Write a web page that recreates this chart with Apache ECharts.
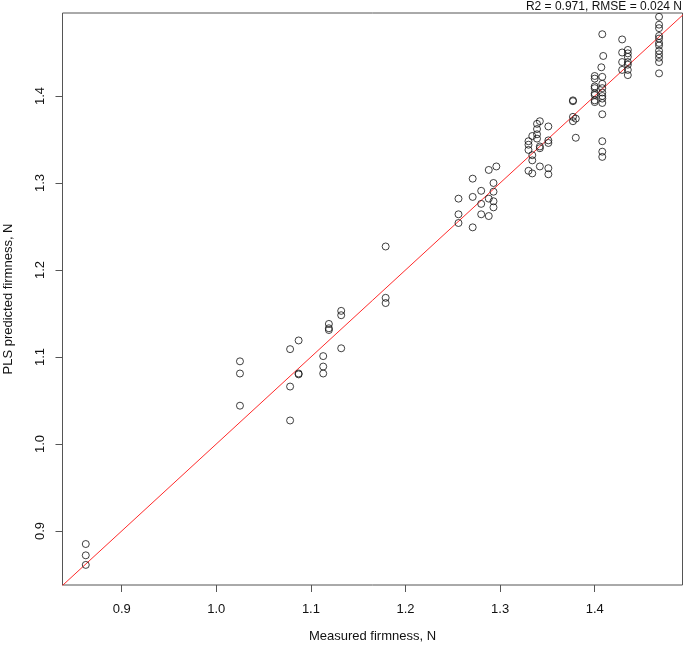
<!DOCTYPE html>
<html>
<head>
<meta charset="utf-8">
<title>PLS predicted vs measured firmness</title>
<script src="https://cdn.jsdelivr.net/npm/echarts@6/dist/echarts.min.js"></script>
<style>
  html, body { margin: 0; padding: 0; background: #fff; }
  #chart { width: 685px; height: 650px; }
</style>
</head>
<body>
<div id="chart"></div>
<script>
// measured firmness (x) and PLS predicted firmness (y)
const measured = [
  0.862, 0.862, 0.862,
  1.025, 1.025, 1.025,
  1.078, 1.078, 1.078,
  1.087, 1.087, 1.087,
  1.113, 1.113, 1.113,
  1.119, 1.119, 1.119,
  1.132, 1.132, 1.132,
  1.179, 1.179, 1.179,
  1.256, 1.256, 1.256,
  1.271, 1.271, 1.271,
  1.280, 1.280, 1.280,
  1.288, 1.288, 1.288,
  1.296, 1.293, 1.293, 1.293, 1.293,
  1.330, 1.330, 1.330, 1.330,
  1.334, 1.334, 1.334, 1.334,
  1.339, 1.339, 1.339, 1.339,
  1.342, 1.342, 1.342, 1.342,
  1.351, 1.351, 1.351, 1.351, 1.351,
  1.377, 1.377, 1.377, 1.380, 1.377, 1.380,
  1.408, 1.409, 1.407,
  1.400, 1.400, 1.400, 1.400, 1.400, 1.400, 1.400, 1.400,
  1.408, 1.408, 1.408, 1.408, 1.408, 1.408, 1.408, 1.408, 1.408, 1.408, 1.408,
  1.429, 1.429, 1.435, 1.435, 1.435, 1.429, 1.435, 1.435, 1.429, 1.435, 1.435,
  1.468, 1.468, 1.468, 1.468, 1.468, 1.468, 1.468, 1.468, 1.468, 1.468, 1.468, 1.468
];
const predicted = [
  0.885, 0.872, 0.861,
  1.095, 1.081, 1.044,
  1.109, 1.066, 1.027,
  1.119, 1.081, 1.080,
  1.101, 1.089, 1.081,
  1.138, 1.133, 1.131,
  1.153, 1.148, 1.110,
  1.227, 1.168, 1.162,
  1.282, 1.264, 1.254,
  1.305, 1.284, 1.249,
  1.291, 1.276, 1.264,
  1.315, 1.282, 1.262,
  1.319, 1.300, 1.290, 1.279, 1.272,
  1.348, 1.344, 1.338, 1.314,
  1.354, 1.332, 1.326, 1.311,
  1.368, 1.362, 1.356, 1.351,
  1.371, 1.342, 1.340, 1.319,
  1.365, 1.349, 1.346, 1.317, 1.310,
  1.395, 1.394, 1.376, 1.374, 1.371, 1.352,
  1.471, 1.446, 1.433,
  1.423, 1.420, 1.411, 1.409, 1.403, 1.401, 1.395, 1.393,
  1.422, 1.414, 1.409, 1.404, 1.400, 1.397, 1.392, 1.379, 1.348, 1.336, 1.330,
  1.465, 1.450, 1.453, 1.449, 1.445, 1.439, 1.439, 1.436, 1.430, 1.430, 1.424,
  1.491, 1.482, 1.478, 1.469, 1.466, 1.461, 1.458, 1.452, 1.448, 1.444, 1.439, 1.426
];
const xTicks = [0.9, 1.0, 1.1, 1.2, 1.3, 1.4];
const yTicks = [0.9, 1.0, 1.1, 1.2, 1.3, 1.4];
const oneToOne = [0.8, 1.55];   // 1:1 reference line

const points = measured.map((m, i) => [m, predicted[i]]);
const font = "'Liberation Sans', Arial, sans-serif";

const chart = echarts.init(document.getElementById("chart"), null, { renderer: "canvas" });

chart.setOption({
  animation: false,
  backgroundColor: "#fff",
  textStyle: { fontFamily: font },
  title: {
    text: "R2 = 0.971, RMSE = 0.024 N",
    right: 3,
    top: 1,
    padding: 0,
    textStyle: { fontSize: 12, fontWeight: "normal", color: "#111", fontFamily: font },
  },
  grid: {
    left: 62.5,
    top: 13,
    width: 620,
    height: 572,
    show: true,
    borderColor: "#555",
    borderWidth: 1,
    containLabel: false,
    outerBoundsMode: "none",
  },
  xAxis: {
    type: "value",
    min: 0.8374,
    max: 1.4928,
    name: "Measured firmness, N",
    nameLocation: "middle",
    nameGap: 45,
    nameTextStyle: { fontSize: 13, color: "#111", fontFamily: font },
    splitLine: { show: false },
    axisLine: { show: false },
    axisTick: {
      show: true,
      length: 7,
      customValues: xTicks,
      lineStyle: { color: "#555" },
    },
    axisLabel: {
      customValues: xTicks,
      margin: 18,
      fontSize: 13,
      color: "#111",
      fontFamily: font,
      formatter: (v) => v.toFixed(1),
    },
  },
  yAxis: {
    type: "value",
    min: 0.8379,
    max: 1.4954,
    name: "PLS predicted firmness, N",
    nameLocation: "middle",
    nameGap: 48,
    nameTextStyle: { fontSize: 13, color: "#111", fontFamily: font },
    splitLine: { show: false },
    axisLine: { show: false },
    axisTick: {
      show: true,
      length: 7,
      customValues: yTicks,
      lineStyle: { color: "#555" },
    },
    axisLabel: {
      customValues: yTicks,
      rotate: 90,
      margin: 16,
      fontSize: 13,
      color: "#111",
      fontFamily: font,
      formatter: (v) => v.toFixed(1),
    },
  },
  series: [
    {
      name: "1:1",
      type: "line",
      data: [[oneToOne[0], oneToOne[0]], [oneToOne[1], oneToOne[1]]],
      symbol: "none",
      clip: true,
      lineStyle: { color: "#ff2a2a", width: 1 },
      silent: true,
      z: 1,
    },
    {
      name: "samples",
      type: "scatter",
      data: points,
      symbol: "circle",
      symbolSize: 7,
      itemStyle: { color: "rgba(0,0,0,0)", borderColor: "#111", borderWidth: 1 },
      z: 2,
    },
  ],
});
</script>
</body>
</html>
